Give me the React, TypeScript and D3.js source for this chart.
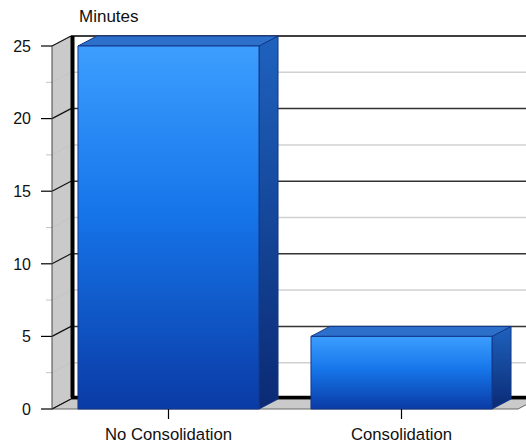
import React from "react";
import * as d3 from "d3";

const categories = ["No Consolidation", "Consolidation"];
const values = [25, 5];
const yMajorTicks = [0, 5, 10, 15, 20, 25];
const yMinorTicks = [2.5, 7.5, 12.5, 17.5, 22.5];
const yAxisTitle = "Minutes";

const W = 526;
const H = 444;
const DX = 19;
const DY = -10;
const FONT = "'Liberation Sans', Arial, Helvetica, sans-serif";

export default function App() {
  const y = d3.scaleLinear().domain([0, 25]).range([409, 46]);
  const x = d3.scaleBand<string>().domain(categories).range([52, 518]).padding(0);
  const bw = x.bandwidth();
  const barW = bw * 0.777;
  const left = 52;
  const right = 518;
  const y0 = y(0);
  const yTop = y(25);
  const pts = (a: [number, number][]) => a.map((p) => p.join(",")).join(" ");

  return (
    <svg width={W} height={H} style={{ position: "absolute", left: 0, top: 0 }} fontFamily={FONT}>
      <defs>
        <linearGradient id="front" x1="0" y1="0" x2="0" y2="1">
          <stop offset="0" stopColor="#3d9eff" />
          <stop offset="0.45" stopColor="#1676ea" />
          <stop offset="1" stopColor="#0a3ba6" />
        </linearGradient>
        <linearGradient id="side" x1="0" y1="0" x2="0" y2="1">
          <stop offset="0" stopColor="#1e62be" />
          <stop offset="1" stopColor="#0b2a74" />
        </linearGradient>
      </defs>
      {/* back wall */}
      <rect x={left + DX} y={yTop + DY} width={right - left + 10} height={y0 - yTop} fill="#fff" />
      {/* left wall */}
      <polygon
        points={pts([
          [left, yTop],
          [left + DX, yTop + DY],
          [left + DX, y0 + DY],
          [left, y0],
        ])}
        fill="#cacaca"
      />
      {/* floor */}
      <polygon
        points={pts([
          [left, y0],
          [right, y0],
          [right + DX, y0 + DY],
          [left + DX, y0 + DY],
        ])}
        fill="#cacaca"
        stroke="#666"
        strokeWidth={1}
      />
      {/* minor grid */}
      {yMinorTicks.map((v) => (
        <g key={"mi" + v} stroke="#c4c4c4" strokeWidth={1}>
          <line x1={left - 6} x2={left} y1={y(v)} y2={y(v)} />
          <line x1={left} x2={left + DX} y1={y(v)} y2={y(v) + DY} />
          <line x1={left + DX} x2={W + 20} y1={y(v) + DY} y2={y(v) + DY} stroke="#d0d0d0" strokeWidth={1.5} />
        </g>
      ))}
      {/* major grid */}
      {yMajorTicks.map((v) => (
        <g key={"ma" + v}>
          <line x1={left - 11} x2={left} y1={y(v)} y2={y(v)} stroke="#000" strokeWidth={1.2} />
          <line x1={left} x2={left + DX} y1={y(v)} y2={y(v) + DY} stroke="#111" strokeWidth={1.2} />
          {v > 0 && (
            <line
              x1={left + DX}
              x2={W + 20}
              y1={y(v) + DY}
              y2={y(v) + DY}
              stroke={v === 25 ? "#000" : "#333"}
              strokeWidth={1.5}
            />
          )}
          <text x={31} y={y(v)} dy="0.36em" textAnchor="end" fontSize={16} fill="#111">
            {v}
          </text>
        </g>
      ))}
      {/* front left edge */}
      <line x1={left} x2={left} y1={yTop} y2={y0} stroke="#444" strokeWidth={1} />
      {/* thick back edges */}
      <line x1={left + DX + 1.5} x2={left + DX + 1.5} y1={yTop + DY} y2={y0 + DY - 1.5} stroke="#000" strokeWidth={4} />
      <line x1={left + DX} x2={W + 20} y1={y0 + DY - 1.5} y2={y0 + DY - 1.5} stroke="#000" strokeWidth={3.5} />
      {/* bars */}
      {categories.map((c, i) => {
        const bx = (x(c) as number) + (bw - barW) / 2;
        const by = y(values[i]);
        const bx2 = bx + barW;
        return (
          <g key={c} stroke="#123689" strokeWidth={1} strokeLinejoin="round">
            <polygon
              points={pts([
                [bx2, by],
                [bx2 + DX, by + DY],
                [bx2 + DX, y0 + DY],
                [bx2, y0],
              ])}
              fill="url(#side)"
            />
            <polygon
              points={pts([
                [bx, by],
                [bx + DX, by + DY],
                [bx2 + DX, by + DY],
                [bx2, by],
              ])}
              fill="#2c70cb"
            />
            <rect x={bx} y={by} width={barW} height={y0 - by} fill="url(#front)" />
          </g>
        );
      })}
      {/* category axis ticks & labels */}
      {categories.map((c) => {
        const cx = (x(c) as number) + bw / 2;
        return (
          <g key={"t" + c}>
            <line x1={cx} x2={cx} y1={y0} y2={y0 + 10} stroke="#000" strokeWidth={1.2} />
            <text x={cx} y={440} textAnchor="middle" fontSize={16.7} fill="#111">
              {c}
            </text>
          </g>
        );
      })}
      <text x={79} y={22} fontSize={17} fill="#111">
        {yAxisTitle}
      </text>
    </svg>
  );
}
